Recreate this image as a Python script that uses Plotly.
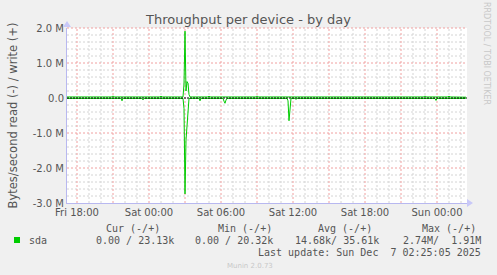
import plotly.graph_objects as go
import pandas as pd

# ---- data ----
write_times = ["2025-12-05 17:10", "2025-12-05 20:55", "2025-12-05 21:00", "2025-12-05 21:05",
               "2025-12-06 00:55", "2025-12-06 01:00", "2025-12-06 01:05",
               "2025-12-06 01:55", "2025-12-06 02:00", "2025-12-06 02:05",
               "2025-12-06 02:50", "2025-12-06 02:55", "2025-12-06 03:00", "2025-12-06 03:05",
               "2025-12-06 03:10", "2025-12-06 03:15", "2025-12-06 03:20", "2025-12-06 03:25",
               "2025-12-06 04:55", "2025-12-06 05:00", "2025-12-06 05:05",
               "2025-12-06 08:55", "2025-12-06 09:00", "2025-12-06 09:05",
               "2025-12-06 11:35", "2025-12-06 11:40", "2025-12-06 11:45",
               "2025-12-06 22:55", "2025-12-06 23:00", "2025-12-06 23:05",
               "2025-12-07 00:55", "2025-12-07 01:00", "2025-12-07 01:05",
               "2025-12-07 02:25"]
write_vals = [30e3, 30e3, 60e3, 30e3,
              30e3, 55e3, 30e3,
              30e3, 50e3, 30e3,
              30e3, 400e3, 1.91e6, 200e3,
              470e3, 420e3, 100e3, 30e3,
              30e3, 55e3, 30e3,
              30e3, 60e3, 30e3,
              30e3, 50e3, 30e3,
              30e3, 60e3, 30e3,
              30e3, 55e3, 30e3,
              23.13e3]

read_times = ["2025-12-05 17:10", "2025-12-05 21:40", "2025-12-05 21:45", "2025-12-05 21:50",
              "2025-12-05 23:25", "2025-12-05 23:30", "2025-12-05 23:35",
              "2025-12-06 02:50", "2025-12-06 02:55", "2025-12-06 03:00", "2025-12-06 03:05",
              "2025-12-06 03:10", "2025-12-06 03:15", "2025-12-06 03:20",
              "2025-12-06 04:10", "2025-12-06 04:15", "2025-12-06 04:20",
              "2025-12-06 06:10", "2025-12-06 06:15", "2025-12-06 06:20", "2025-12-06 06:25", "2025-12-06 06:30",
              "2025-12-06 11:30", "2025-12-06 11:35", "2025-12-06 11:40", "2025-12-06 11:45", "2025-12-06 11:50",
              "2025-12-06 12:10", "2025-12-06 12:15", "2025-12-06 12:20",
              "2025-12-06 15:50", "2025-12-06 15:55", "2025-12-06 16:00",
              "2025-12-06 20:55", "2025-12-06 21:00", "2025-12-06 21:05",
              "2025-12-06 23:50", "2025-12-06 23:55", "2025-12-07 00:00",
              "2025-12-07 02:20", "2025-12-07 02:25"]
read_vals = [12e3, 12e3, 80e3, 12e3,
             12e3, 55e3, 12e3,
             12e3, 300e3, 2.74e6, 1.2e6,
             770e3, 300e3, 12e3,
             12e3, 80e3, 12e3,
             12e3, 90e3, 150e3, 60e3, 12e3,
             12e3, 80e3, 650e3, 250e3, 12e3,
             12e3, 40e3, 12e3,
             12e3, 30e3, 12e3,
             12e3, 30e3, 12e3,
             12e3, 70e3, 12e3,
             12e3, 0.0]

y_tickvals = [2e6, 1e6, 0, -1e6, -2e6, -3e6]
y_ticktext = ["2.0 M", "1.0 M", "0.0", "-1.0 M", "-2.0 M", "-3.0 M"]

x_tickvals = ["2025-12-05 18:00", "2025-12-05 21:00", "2025-12-06 00:00", "2025-12-06 03:00",
              "2025-12-06 06:00", "2025-12-06 09:00", "2025-12-06 12:00", "2025-12-06 15:00",
              "2025-12-06 18:00", "2025-12-06 21:00", "2025-12-07 00:00"]
x_ticktext = ["Fri 18:00", "", "Sat 00:00", "", "Sat 06:00", "", "Sat 12:00", "",
              "Sat 18:00", "", "Sun 00:00"]
x_range = ["2025-12-05 17:10", "2025-12-07 02:30"]

legend_name = "sda"
col_headers = ["Cur (-/+)", "Min (-/+)", "Avg (-/+)", "Max (-/+)"]
col_values = ["0.00 / 23.13k", "0.00 / 20.32k", "14.68k/ 35.61k", "2.74M/  1.91M"]
last_update = "Last update: Sun Dec  7 02:25:05 2025"

GREEN = "#00CC00"
W, H = 497, 275
L, R, T, B = 67, 467, 28, 203

def px(x):
    return (x - L) / (R - L)

def py(y):
    return (B - y) / (B - T)

# grid positions: hourly / 0.2M minor, 3-hourly / 1M major
hours = pd.date_range("2025-12-05 18:00", "2025-12-07 02:00", freq="1h")
x_minor = [h.strftime("%Y-%m-%d %H:%M") for h in hours if h.hour % 3 != 0]
y_minor = [k * 200000 for k in range(-14, 10) if k % 5 != 0]
y_major = [1e6, -1e6, -2e6]

fig = go.Figure()
fig.add_trace(go.Scatter(x=read_times, y=[-v for v in read_vals], mode="lines",
                         line=dict(color=GREEN, width=1), hoverinfo="skip", showlegend=False))
fig.add_trace(go.Scatter(x=write_times, y=write_vals, mode="lines",
                         line=dict(color=GREEN, width=1), hoverinfo="skip", showlegend=False))

mono = "DejaVu Sans Mono"
sans = "DejaVu Sans"
txt = "#555555"
MINOR = dict(color="#D4D4D4", width=1, dash="2px,2px")
MAJOR = dict(color="#F0A0A0", width=1, dash="2px,2px")

for xm in x_minor:
    fig.add_shape(type="line", xref="x", yref="paper", x0=xm, x1=xm, y0=0, y1=1,
                  line=MINOR, layer="below")
for ym in y_minor:
    fig.add_shape(type="line", xref="paper", yref="y", x0=0, x1=1, y0=ym, y1=ym,
                  line=MINOR, layer="below")
for xm in x_tickvals:
    fig.add_shape(type="line", xref="x", yref="paper", x0=xm, x1=xm, y0=0, y1=1,
                  line=MAJOR, layer="below")
for ym in y_major:
    fig.add_shape(type="line", xref="paper", yref="y", x0=0, x1=1, y0=ym, y1=ym,
                  line=MAJOR, layer="below")
fig.add_shape(type="line", xref="paper", yref="paper", x0=0, x1=1, y0=1, y1=1,
              line=MAJOR, layer="below")

fig.update_layout(
    width=W, height=H,
    margin=dict(l=L, r=W - R, t=T, b=H - B),
    paper_bgcolor="#F0F0F0", plot_bgcolor="#FFFFFF",
    showlegend=False,
    font=dict(family=sans, size=10, color=txt),
    title=dict(text="Throughput per device - by day", x=0.5, xanchor="center",
               y=1 - 19 / H, yanchor="middle",
               font=dict(family=sans, size=13, color="#555555")),
    xaxis=dict(type="date", range=x_range,
               tickvals=x_tickvals, ticktext=x_ticktext, ticks="",
               showgrid=False,
               showline=True, linecolor="#B8B8F0", linewidth=1,
               tickfont=dict(family=sans, size=10, color=txt), zeroline=False),
    yaxis=dict(range=[-3e6, 2e6], tickvals=y_tickvals, ticktext=y_ticktext, ticks="",
               showgrid=False,
               showline=True, linecolor="#B8B8F0", linewidth=1,
               zeroline=False,
               tickfont=dict(family=sans, size=10, color=txt),
               title=dict(text="Bytes/second read (-) / write (+)", standoff=12,
                          font=dict(family=sans, size=11.5, color=txt))),
)

# black zero rule drawn over the series
fig.add_hline(y=0, line=dict(color="#000000", width=1, dash="2px,1px"), layer="above")

# axis arrows
fig.add_shape(type="path", xref="paper", yref="paper",
              path=f"M {px(63)} {py(T-1)} L {px(71)} {py(T-1)} L {px(67)} {py(T-7)} Z",
              fillcolor="#C8C8F8", line=dict(width=0))
fig.add_shape(type="path", xref="paper", yref="paper",
              path=f"M {px(R)} {py(199)} L {px(R)} {py(207)} L {px(R+6)} {py(203)} Z",
              fillcolor="#C8C8F8", line=dict(width=0))

ann = []
ann.append(dict(text="RRDTOOL / TOBI OETIKER", x=px(487), y=py(53), xref="paper", yref="paper",
                xanchor="center", yanchor="middle",
                textangle=90, showarrow=False, font=dict(family=sans, size=8, color="#C8C8C8")))
fig.add_shape(type="rect", xref="paper", yref="paper",
              x0=px(14), x1=px(20), y0=py(243), y1=py(237),
              fillcolor=GREEN, line=dict(width=0))
ann.append(dict(text=legend_name, x=px(27), y=py(240), xref="paper", yref="paper",
                xanchor="left", yanchor="middle", showarrow=False, font=dict(family=mono, size=10, color=txt)))
hdr_x = [133, 245, 345, 449]
val_right = [176, 275, 381, 483]
for hx, h in zip(hdr_x, col_headers):
    ann.append(dict(text=h, x=px(hx), y=py(228), xref="paper", yref="paper",
                    xanchor="center", yanchor="middle", showarrow=False,
                    font=dict(family=mono, size=10, color=txt)))
for vx, v in zip(val_right, col_values):
    ann.append(dict(text=v.replace(" ", "&nbsp;"), x=px(vx), y=py(240), xref="paper", yref="paper",
                    xanchor="right", yanchor="middle", showarrow=False,
                    font=dict(family=mono, size=10, color=txt)))
ann.append(dict(text=last_update.replace(" ", "&nbsp;"), x=px(483), y=py(252), xref="paper", yref="paper",
                xanchor="right", yanchor="middle", showarrow=False,
                font=dict(family=mono, size=10, color=txt)))
ann.append(dict(text="Munin 2.0.73", x=px(250), y=py(266), xref="paper", yref="paper",
                xanchor="center", yanchor="middle", showarrow=False,
                font=dict(family=sans, size=7, color="#C8C8C8")))
fig.update_layout(annotations=ann)

fig.write_html("out.html")
